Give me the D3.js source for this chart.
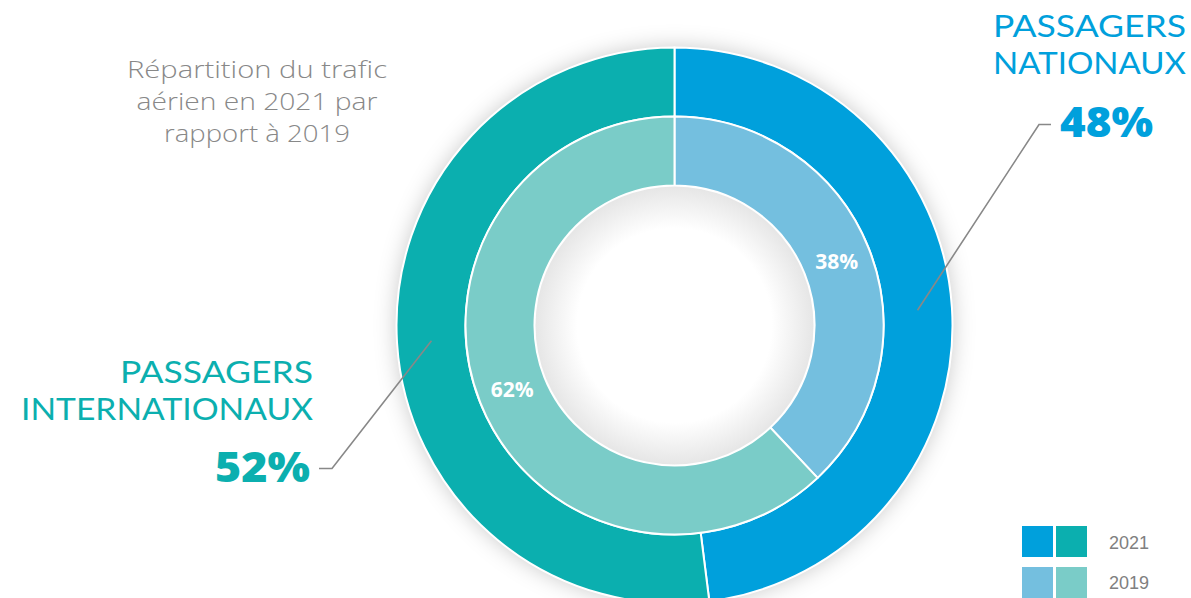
<!DOCTYPE html>
<html><head><meta charset="utf-8">
<script src="https://cdn.jsdelivr.net/npm/d3@7"></script>
<style>html,body{margin:0;padding:0;background:#fff;overflow:hidden}svg{display:block}</style>
</head><body>
<script>
const categories = ["Passagers nationaux", "Passagers internationaux"];
const years = ["2021", "2019"];
const values2021 = [48, 52];
const values2019 = [38, 62];
const subtitleLines = ["Répartition du trafic", "aérien en 2021 par", "rapport à 2019"];
const bigLabels = [["PASSAGERS", "NATIONAUX"], ["PASSAGERS", "INTERNATIONAUX"]];

const W = 1191, H = 598;
const cx = 674.5, cy = 325.5;
const rOuter = 278, rMid = 209, rInner = 140;
const colors2021 = ["#00A0DC", "#0BAFAF"];
const colors2019 = ["#74BFDF", "#7ACCC8"];
const textColors = ["#00A0DC", "#0BAFAF"];

const svg = d3.select("body").append("svg").attr("width", W).attr("height", H);
const defs = svg.append("defs");
const f = defs.append("filter").attr("id", "sh").attr("x", "-30%").attr("y", "-30%").attr("width", "160%").attr("height", "160%");
f.append("feDropShadow").attr("dx", 0).attr("dy", 0).attr("stdDeviation", 11).attr("flood-color", "#000").attr("flood-opacity", 0.22);
const rg = defs.append("radialGradient").attr("id", "hole");
rg.append("stop").attr("offset", "0%").attr("stop-color", "#fff");
rg.append("stop").attr("offset", "70%").attr("stop-color", "#fff");
rg.append("stop").attr("offset", "100%").attr("stop-color", "#e6e6e6");

const g = svg.append("g").attr("transform", `translate(${cx},${cy})`);
const pie = d3.pie().sort(null).value(d => d);
const arcOuter = d3.arc().innerRadius(rMid).outerRadius(rOuter);
const arcInner = d3.arc().innerRadius(rInner).outerRadius(rMid);

// shadow base
g.append("circle").attr("r", rOuter).attr("fill", "#fff").attr("filter", "url(#sh)");

const p21 = pie(values2021), p19 = pie(values2019);
g.selectAll("path.o").data(p21).enter().append("path").attr("class", "o")
  .attr("d", arcOuter).attr("fill", (d, i) => colors2021[i]).attr("stroke", "#fff").attr("stroke-width", 2);
g.selectAll("path.i").data(p19).enter().append("path").attr("class", "i")
  .attr("d", arcInner).attr("fill", (d, i) => colors2019[i]).attr("stroke", "#fff").attr("stroke-width", 2);
g.append("circle").attr("r", rInner - 1).attr("fill", "url(#hole)");

g.selectAll("text.il").data(p19).enter().append("text")
  .attr("transform", d => `translate(${arcInner.centroid(d)})`)
  .attr("dy", "0.36em").attr("text-anchor", "middle")
  .attr("font-family", "Open Sans").attr("font-weight", 700).attr("font-size", 21)
  .attr("fill", "#fff").text(d => d.data + "%");

// leader lines
const c0 = arcOuter.centroid(p21[0]), c1 = arcOuter.centroid(p21[1]);
const lines = [
  [[cx + c0[0], cy + c0[1]], [1039, 124.5], [1051, 124.5]],
  [[cx + c1[0], cy + c1[1]], [332, 468.5], [319, 468.5]]
];
svg.selectAll("path.ld").data(lines).enter().append("path")
  .attr("d", d => d3.line()(d)).attr("fill", "none").attr("stroke", "#888").attr("stroke-width", 1.6);

// big labels
const lab = [
  {x: 1186, ys: [37, 74], w: [193, 193], px: 1153, py: 137, pw: 93},
  {x: 313, ys: [383, 420], w: [193, 292], px: 310, py: 482, pw: 95}
];
lab.forEach((L, i) => {
  bigLabels[i].forEach((t, j) => {
    svg.append("text").attr("x", L.x).attr("y", L.ys[j]).attr("text-anchor", "end")
      .attr("font-family", "Lato").attr("font-weight", 400).attr("font-size", 30)
      .attr("fill", textColors[i]).attr("textLength", L.w[j]).attr("lengthAdjust", "spacingAndGlyphs").text(t);
  });
  svg.append("text").attr("x", L.px).attr("y", L.py).attr("text-anchor", "end")
    .attr("font-family", "Open Sans").attr("font-weight", 800).attr("font-size", 42)
    .attr("fill", textColors[i]).attr("textLength", L.pw).attr("lengthAdjust", "spacingAndGlyphs").text(values2021[i] + "%");
});

// subtitle
const subW = [260, 241, 186];
subtitleLines.forEach((t, j) => {
  svg.append("text").attr("x", 257).attr("y", 78 + j * 32).attr("text-anchor", "middle")
    .attr("font-family", "Open Sans").attr("font-weight", 300).attr("font-size", 24)
    .attr("fill", "#888").attr("textLength", subW[j]).attr("lengthAdjust", "spacingAndGlyphs").text(t);
});

// legend
const legColors = [colors2021, colors2019];
years.forEach((y, r) => {
  legColors[r].forEach((c, k) => {
    svg.append("rect").attr("x", 1022 + k * 34).attr("y", 526 + r * 41).attr("width", 31).attr("height", 31).attr("fill", c);
  });
  svg.append("text").attr("x", 1109).attr("y", 549 + r * 40).attr("font-family", "Liberation Sans, Arial")
    .attr("font-size", 18).attr("fill", "#808080").text(y);
});
</script>
</body></html>
